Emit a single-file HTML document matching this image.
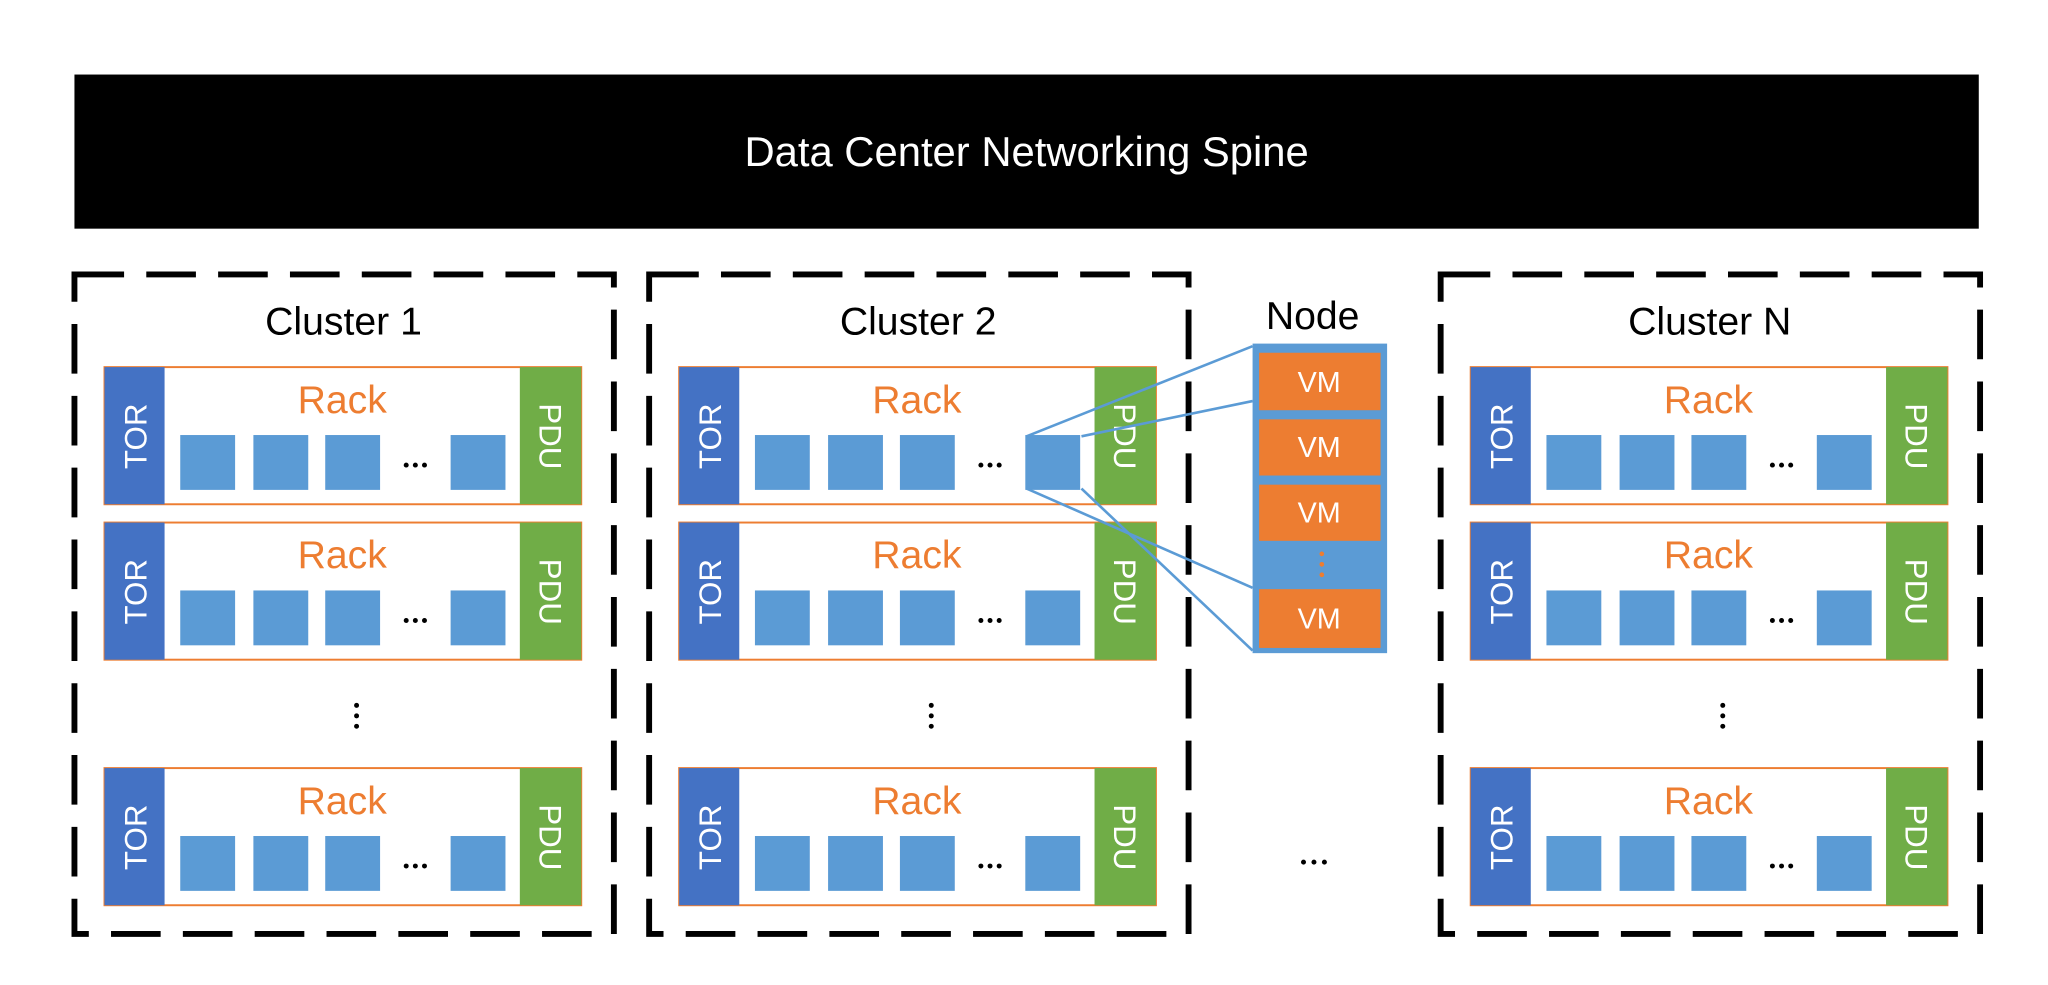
<!DOCTYPE html>
<html><head><meta charset="utf-8"><style>html,body{margin:0;padding:0;background:#fff}svg{display:block}text{font-family:"Liberation Sans",sans-serif}</style></head>
<body>
<svg width="2048" height="985" viewBox="0 0 1568 754" xmlns="http://www.w3.org/2000/svg">
<defs>
<g id="rack">
  <rect x="0" y="0" width="365" height="105" fill="#fff" stroke="#ed7d31" stroke-width="1.5"/>
  <rect x="0" y="0" width="46" height="105" fill="#4472c4"/>
  <rect x="318" y="0" width="47" height="105" fill="#70ad47"/>
  <text x="182" y="35" font-size="30" fill="#ed7d31" text-anchor="middle">Rack</text>
  <rect x="58" y="52" width="42" height="42" fill="#5b9bd5"/>
  <rect x="114" y="52" width="42" height="42" fill="#5b9bd5"/>
  <rect x="169" y="52" width="42" height="42" fill="#5b9bd5"/>
  <circle cx="231" cy="75" r="1.9" fill="#000"/><circle cx="238" cy="75" r="1.9" fill="#000"/><circle cx="245" cy="75" r="1.9" fill="#000"/>
  <rect x="265" y="52" width="42" height="42" fill="#5b9bd5"/>
  <text transform="translate(32,53) rotate(-90)" font-size="24" fill="#fff" text-anchor="middle">TOR</text>
  <text transform="translate(333,53) rotate(90)" font-size="24" fill="#fff" text-anchor="middle">PDU</text>
</g>
<g id="cluster">
  <rect x="0" y="0" width="413" height="505" fill="none" stroke="#000" stroke-width="4.5" stroke-dasharray="38,17"/>
  <use href="#rack" x="23" y="71"/>
  <use href="#rack" x="23" y="190"/>
  <use href="#rack" x="23" y="378"/>
  <circle cx="216" cy="330" r="1.9" fill="#000"/>
  <circle cx="216" cy="338" r="1.9" fill="#000"/>
  <circle cx="216" cy="346" r="1.9" fill="#000"/>
</g>
</defs>
<rect x="57" y="57" width="1458" height="118" fill="#000"/>
<text x="786" y="127" font-size="32" fill="#fff" text-anchor="middle">Data Center Networking Spine</text>

<g transform="translate(57,210)"><use href="#cluster"/><text x="206" y="46" font-size="30" text-anchor="middle">Cluster 1</text></g>
<g transform="translate(497,210)"><use href="#cluster"/><text x="206" y="46" font-size="30" text-anchor="middle">Cluster 2</text></g>
<g transform="translate(1103,210)"><use href="#cluster"/><text x="206" y="46" font-size="30" text-anchor="middle">Cluster N</text></g>

<text x="1005" y="252" font-size="30" text-anchor="middle">Node</text>
<rect x="959" y="263" width="103" height="237" fill="#5b9bd5"/>
<rect x="964" y="270" width="93" height="44" fill="#ed7d31"/>
<rect x="964" y="321" width="93" height="43" fill="#ed7d31"/>
<rect x="964" y="371" width="93" height="43" fill="#ed7d31"/>
<rect x="964" y="451" width="93" height="45" fill="#ed7d31"/>
<g font-size="22" fill="#fff" text-anchor="middle">
<text x="1010" y="300">VM</text><text x="1010" y="350">VM</text><text x="1010" y="400">VM</text><text x="1010" y="481">VM</text>
</g>
<circle cx="1012" cy="424" r="1.8" fill="#ed7d31"/><circle cx="1012" cy="432" r="1.8" fill="#ed7d31"/><circle cx="1012" cy="440" r="1.8" fill="#ed7d31"/>
<g stroke="#5b9bd5" stroke-width="2" fill="none">
<line x1="786" y1="334" x2="959" y2="265"/>
<line x1="828" y1="334" x2="959" y2="307"/>
<line x1="786" y1="374" x2="959" y2="450"/>
<line x1="828" y1="374" x2="959" y2="498"/>
</g>
<circle cx="998" cy="660" r="1.9" fill="#000"/><circle cx="1006" cy="660" r="1.9" fill="#000"/><circle cx="1014" cy="660" r="1.9" fill="#000"/>
</svg>
</body></html>
